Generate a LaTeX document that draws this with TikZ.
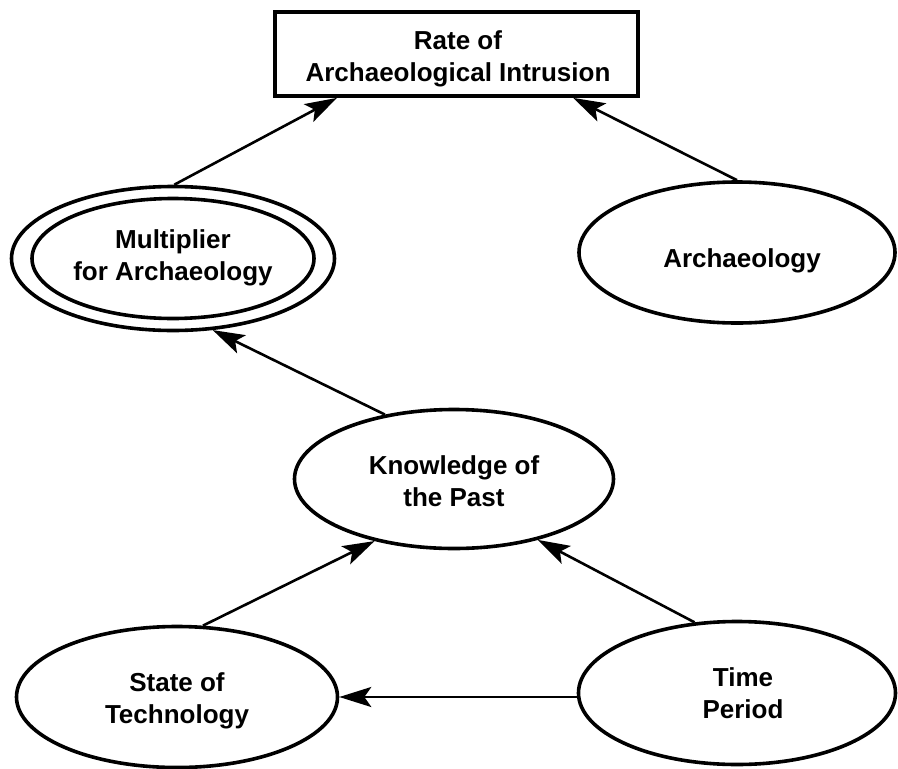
\documentclass[tikz,border=0pt]{standalone}
\usepackage{fontspec}
\setmainfont{Liberation Sans}
\usetikzlibrary{shapes.geometric,arrows.meta,calc}

\begin{document}
\begin{tikzpicture}[x=1pt,y=-1pt,
  every node/.style={font=\bfseries\fontsize{26}{32}\selectfont},
  oval/.style={draw,ellipse,line width=3.6pt,inner sep=0pt},
  lbl/.style={align=center,inner sep=0pt},
  box/.style={draw,rectangle,line width=3.8pt,inner sep=0pt},
  link/.style={line width=2.6pt,-{Stealth[length=32pt,width=20pt,inset=7pt]}},
]
\fill[white] (0,0) rectangle (898,769);
\useasboundingbox (0,0) rectangle (898,769);

% result variable
\node[box,minimum width=363pt,minimum height=84pt] (rate) at (456.5,54) {};
\node[lbl] (ratetxt) at (458,59) {Rate of\\Archaeological Intrusion};

% multiplier drawn as a double oval
\node[oval,minimum width=323pt,minimum height=144pt] (mult) at (173,258.5) {};
\node[oval,minimum width=282pt,minimum height=120pt] (multin) at (mult.center) {};
\node[lbl] (multtxt) at (173,257.5) {Multiplier\\for Archaeology};

\node[oval,minimum width=316pt,minimum height=141pt] (arch) at (737,252.5) {};
\node[lbl,anchor=base] (archtxt) at (742,267) {Archaeology};

\node[oval,minimum width=319pt,minimum height=139pt] (know) at (454,479) {};
\node[lbl] (knowtxt) at (454,481.5) {Knowledge of\\the Past};

\node[oval,minimum width=321pt,minimum height=141pt] (state) at (177,697) {};
\node[lbl] (statetxt) at (177,701) {State of\\Technology};

\node[oval,minimum width=317pt,minimum height=143pt] (time) at (737,693) {};
\node[lbl] (timetxt) at (743,693) {Time\\Period};

% influence links
\draw[link] (mult.89) -- ($(rate.south west)!0.174!(rate.south east)$);
\draw[link] (arch.north) -- ($(rate.south west)!0.818!(rate.south east)$);
\draw[link] (know.137) -- (mult.-61);
\draw[link] (state.70) -- (know.218);
\draw[link] (time.121) -- (know.-36);
\draw[link] (time.west |- state.east) -- (state.east);
\end{tikzpicture}
\end{document}
